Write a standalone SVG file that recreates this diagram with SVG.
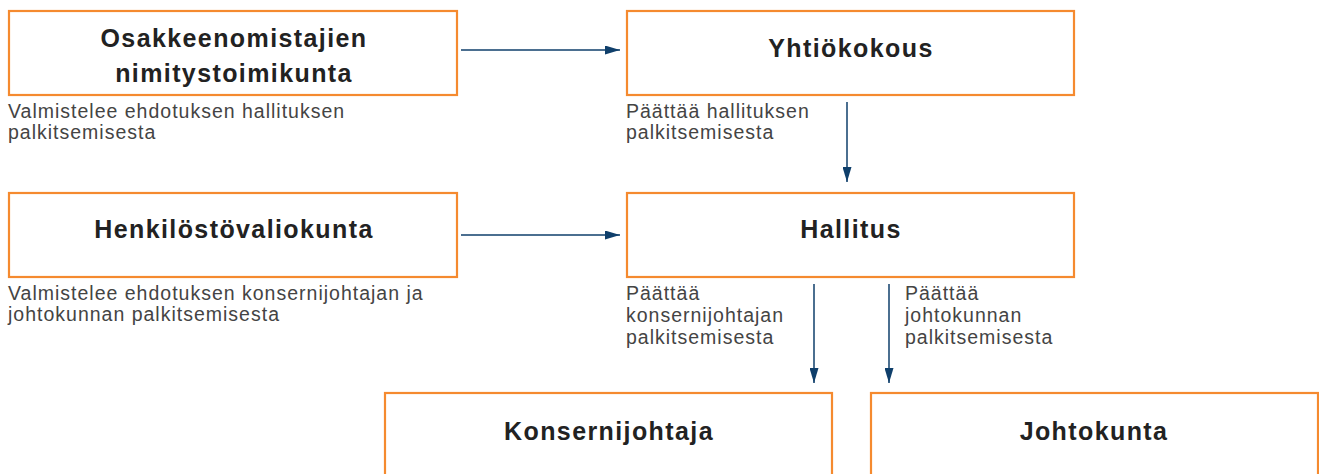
<svg xmlns="http://www.w3.org/2000/svg" width="1319" height="474" viewBox="0 0 1319 474">
<style>
.box{fill:#fff;stroke:#f58a2f;stroke-width:2.2}
.t{font-family:"Liberation Sans",Arial,sans-serif;font-weight:bold;font-size:25px;letter-spacing:1.4px;fill:#222;text-anchor:middle}
.d{font-family:"Liberation Sans",Arial,sans-serif;font-size:19.5px;letter-spacing:1px;fill:#444}
.c{stroke:#0f3f6b;stroke-width:1.5;fill:none;marker-end:url(#ah)}
</style>
<defs>
<marker id="ah" markerWidth="15" markerHeight="9" refX="15" refY="4.5" orient="auto" markerUnits="userSpaceOnUse">
<path d="M0,0 L15,4.5 L0,9 Z" fill="#0f3f6b"/>
</marker>
</defs>
<rect width="1319" height="474" fill="#fff"/>
<g id="connectors">
<line class="c" x1="461" y1="50" x2="620" y2="50"/>
<line class="c" x1="461" y1="235" x2="620" y2="235"/>
<line class="c" x1="847" y1="102" x2="847" y2="182"/>
<line class="c" x1="814" y1="284" x2="814" y2="383"/>
<line class="c" x1="889" y1="284" x2="889" y2="383"/>
</g>
<g id="osakkeenomistajien">
<rect class="box" x="9" y="11" width="448" height="84"/>
<text class="t" x="234" y="47">Osakkeenomistajien</text>
<text class="t" x="234" y="82">nimitystoimikunta</text>
<text class="d" x="8" y="118">Valmistelee ehdotuksen hallituksen</text>
<text class="d" x="8" y="139">palkitsemisesta</text>
</g>
<g id="yhtiokokous">
<rect class="box" x="627" y="11" width="447" height="84"/>
<text class="t" x="851" y="57">Yhtiökokous</text>
<text class="d" x="626" y="118">Päättää hallituksen</text>
<text class="d" x="626" y="139">palkitsemisesta</text>
</g>
<g id="henkilostovaliokunta">
<rect class="box" x="9" y="193" width="448" height="84"/>
<text class="t" x="234" y="238">Henkilöstövaliokunta</text>
<text class="d" x="8" y="300">Valmistelee ehdotuksen konsernijohtajan ja</text>
<text class="d" x="8" y="321">johtokunnan palkitsemisesta</text>
</g>
<g id="hallitus">
<rect class="box" x="627" y="193" width="447" height="84"/>
<text class="t" x="851" y="238">Hallitus</text>
<text class="d" x="626" y="300">Päättää</text>
<text class="d" x="626" y="322">konsernijohtajan</text>
<text class="d" x="626" y="344">palkitsemisesta</text>
<text class="d" x="905" y="300">Päättää</text>
<text class="d" x="905" y="322">johtokunnan</text>
<text class="d" x="905" y="344">palkitsemisesta</text>
</g>
<g id="konsernijohtaja">
<rect class="box" x="385" y="393" width="447" height="100"/>
<text class="t" x="609" y="440">Konsernijohtaja</text>
</g>
<g id="johtokunta">
<rect class="box" x="871" y="393" width="447" height="100"/>
<text class="t" x="1094" y="440">Johtokunta</text>
</g>
</svg>
